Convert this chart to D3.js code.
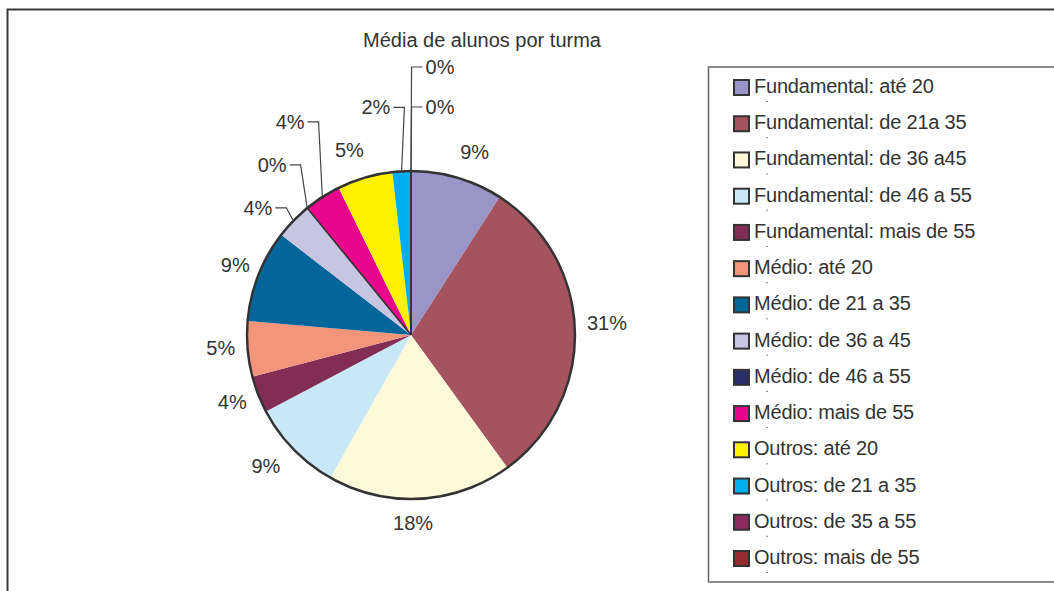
<!DOCTYPE html>
<html>
<head>
<meta charset="utf-8">
<script src="https://cdn.jsdelivr.net/npm/d3@7"></script>
<style>
    body { margin: 0; background: #fff; }
    svg text { font-family: "Liberation Sans", Arial, sans-serif; fill: #333; }
</style>
</head>
<body>
<svg id="chart"></svg>
<script>
const title = "Média de alunos por turma";

const categories = [
    "Fundamental: até 20", "Fundamental: de 21a 35", "Fundamental: de 36 a45",
    "Fundamental: de 46 a 55", "Fundamental: mais de 55",
    "Médio: até 20", "Médio: de 21 a 35", "Médio: de 36 a 45",
    "Médio: de 46 a 55", "Médio: mais de 55",
    "Outros: até 20", "Outros: de 21 a 35", "Outros: de 35 a 55", "Outros: mais de 55"
];

// number of classes per category (labels are shares of the total)
const values = [5, 17, 10, 5, 2, 3, 5, 2, 0, 2, 3, 1, 0, 0];

const colors = [
    "#9a95c8", "#a5535e", "#fef9d8", "#c8e8f8", "#832c55",
    "#f3957a", "#03659a", "#c7c5e2", "#2b2f6b", "#e9068c",
    "#fff200", "#00aeef", "#8b2b60", "#98292c"
];

// label nudges from the default spot, and which labels get a leader line
const labelShift = [
    [9, 3], [2, -6], [-9, -6], [-6, -4], [2, -3], [3, -4], [5, 0],
    [-14, 8], [-16, -20], [-16, -50], [-7, 1], [-24, -34], [29, -34], [29, -74]
];
const hasLeader = [false, false, false, false, false, false, false,
    true, true, true, false, true, true, true];

document.addEventListener("DOMContentLoaded", function () {
    const width = 1054;
    const height = 591;
    const cx = 411, cy = 335, radius = 164;

    const svg = d3.select("#chart")
        .attr("width", width)
        .attr("height", height);

    // outer frame
    svg.append("rect")
        .attr("x", 7.5).attr("y", 9.5)
        .attr("width", width + 20).attr("height", height + 20)
        .attr("fill", "none")
        .attr("stroke", "#3a3a3a")
        .attr("stroke-width", 2);

    svg.append("text")
        .attr("x", 482).attr("y", 40)
        .attr("text-anchor", "middle")
        .attr("dominant-baseline", "central")
        .attr("font-size", 20)
        .text(title);

    const total = d3.sum(values);
    const pie = d3.pie().sort(null).value(d => d);
    const arcs = pie(values);
    const arc = d3.arc().innerRadius(0).outerRadius(radius);

    const g = svg.append("g")
        .attr("transform", `translate(${cx},${cy})`);

    g.selectAll("path.slice")
        .data(arcs)
        .enter()
        .append("path")
        .attr("class", "slice")
        .attr("d", arc)
        .attr("fill", (d, i) => colors[i]);

    // zero slices show up as a dark radius
    g.selectAll("line.zero")
        .data(arcs.filter(d => d.value === 0))
        .enter()
        .append("line")
        .attr("class", "zero")
        .attr("x1", 0).attr("y1", 0)
        .attr("x2", d => radius * Math.sin(d.startAngle))
        .attr("y2", d => -radius * Math.cos(d.startAngle))
        .attr("stroke", "#333")
        .attr("stroke-width", 1.6);

    g.append("circle")
        .attr("r", radius)
        .attr("fill", "none")
        .attr("stroke", "#333")
        .attr("stroke-width", 2.5);

    // labels
    const labelR = radius + 30;
    const pct = d3.format(".0%");
    arcs.forEach((d, i) => {
        const mid = (d.startAngle + d.endAngle) / 2;
        const lx = labelR * Math.sin(mid) + labelShift[i][0];
        const ly = -labelR * Math.cos(mid) + labelShift[i][1];
        const txt = pct(d.value / total);

        const t = g.append("text")
            .attr("x", lx).attr("y", ly)
            .attr("text-anchor", "middle")
            .attr("dominant-baseline", "central")
            .attr("font-size", 20)
            .text(txt);

        if (hasLeader[i]) {
            const hw = t.node().getComputedTextLength() / 2;
            const ex = radius * Math.sin(mid);
            const ey = -radius * Math.cos(mid);
            const side = lx < ex - 1 ? 1 : -1;
            const x0 = lx + side * (hw + 3);
            const x1 = lx + side * (hw + 14);
            g.append("path")
                .attr("d", `M${x0},${ly}L${x1},${ly}L${ex},${ey}`)
                .attr("fill", "none")
                .attr("stroke", "#444")
                .attr("stroke-width", 1.2);
        }
    });

    // legend
    const legend = svg.append("g");
    legend.append("rect")
        .attr("x", 708.5).attr("y", 67)
        .attr("width", 400).attr("height", 515)
        .attr("fill", "#fff")
        .attr("stroke", "#666")
        .attr("stroke-width", 1.5);

    const y = d3.scalePoint()
        .domain(categories)
        .range([86, 557]);

    const item = legend.selectAll("g.item")
        .data(categories)
        .enter()
        .append("g")
        .attr("class", "item")
        .attr("transform", d => `translate(0,${y(d)})`);

    item.append("rect")
        .attr("x", 734).attr("y", -6)
        .attr("width", 15).attr("height", 15)
        .attr("fill", (d, i) => colors[i])
        .attr("stroke", "#333")
        .attr("stroke-width", 2);

    item.append("text")
        .attr("x", 754).attr("y", 0)
        .attr("dominant-baseline", "central")
        .attr("font-size", 20)
        .attr("letter-spacing", -0.2)
        .text(d => d);

    item.append("rect")
        .attr("x", 766).attr("y", 15)
        .attr("width", 2).attr("height", 1)
        .attr("fill", "#888");
});
</script>
</body>
</html>
